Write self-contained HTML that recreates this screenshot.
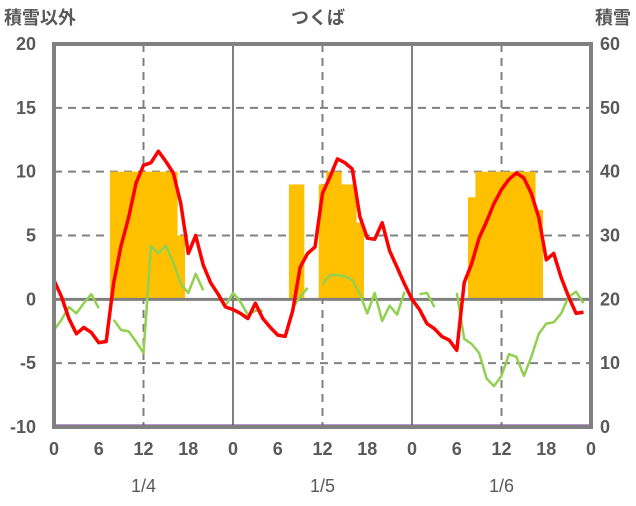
<!DOCTYPE html>
<html><head><meta charset="utf-8"><style>
body{margin:0;background:#fff;}
svg text{font-family:"Liberation Sans","Noto Sans CJK JP",sans-serif;fill:#595959;font-weight:bold;}
</style></head><body>
<svg id="chart" width="636" height="501" xmlns="http://www.w3.org/2000/svg">
<g id="grid"></g><g id="bars"></g><g id="lines"></g><g id="labels"></g>
</svg>
<script>
const redValues=[1.5,0.2,-1.5,-2.7,-2.2,-2.6,-3.4,-3.3,1.3,4.2,6.4,9.1,10.5,10.7,11.6,10.8,9.9,7.5,3.6,5.0,2.7,1.3,0.4,-0.6,
-0.8,-1.1,-1.5,-0.3,-1.5,-2.2,-2.8,-2.9,-0.9,2.5,3.6,4.1,8.3,9.6,11.0,10.7,10.2,6.5,4.8,4.7,6.0,3.8,2.5,1.2,
0,-0.8,-1.9,-2.3,-2.9,-3.2,-4.0,1.3,2.8,4.8,6.1,7.5,8.6,9.4,9.9,9.5,8.3,6.4,3.1,3.6,1.7,0.2,-1.1,-1.0];
const greenValues=[-2.4,-1.6,-0.6,-1.1,-0.3,0.4,-0.7,null,-1.6,-2.4,-2.5,-3.3,-4.2,4.2,3.6,4.2,2.9,1.2,0.5,2.0,0.7,null,0.5,-0.5,
0.5,-0.2,-1.2,-0.9,-0.9,null,null,null,-0.7,0.2,0.9,null,1.2,1.9,1.9,1.8,1.5,0.4,-1.1,0.5,-1.7,-0.5,-1.2,0.6,
null,0.4,0.5,-0.6,null,null,0.5,-3.1,-3.5,-4.2,-6.2,-6.8,-6.0,-4.3,-4.5,-6.0,-4.5,-2.7,-1.9,-1.8,-1.1,0.2,0.6,-0.3];
const barHours=[8,9,10,11,12,13,14,15,16,17,32,33,36,37,38,39,40,41,56,57,58,59,60,61,62,63,64,65];
const barValues=[40,40,40,40,40,40,40,40,40,30,38,38,38,40,40,38,38,32,36,40,40,40,40,40,40,40,40,34];
const xTicks=[0,6,12,18,24,30,36,42,48,54,60,66,72];
const xTickLabels=["0","6","12","18","0","6","12","18","0","6","12","18","0"];
const dateLabels=["1/4","1/5","1/6"];
const leftTicks=[20,15,10,5,0,-5,-10];
const rightTicks=[60,50,40,30,20,10,0];

const NS="http://www.w3.org/2000/svg";
const X0=54,X1=591,Y0=44,Y1=427;
const BAR_BASE=20;
const xs=h=>X0+(X1-X0)*h/72;
const yl=v=>Y1-(Y1-Y0)*(v+10)/30;
const yr=v=>Y1-(Y1-Y0)*v/60;
function mk(tag,attrs,parent){const e=document.createElementNS(NS,tag);for(const k in attrs)e.setAttribute(k,attrs[k]);parent.appendChild(e);return e;}
const grid=document.getElementById('grid'),bars=document.getElementById('bars'),lines=document.getElementById('lines'),labels=document.getElementById('labels');

leftTicks.forEach(v=>{
  if(v===20||v===-10||v===0)return;
  const l=mk('line',{x1:X0,x2:X1,y1:yl(v),y2:yl(v),stroke:'#808080','stroke-width':2,'stroke-dasharray':'8,6'},grid);
  
  
});
[12,24,36,48,60].forEach(h=>{
  const l=mk('line',{x1:xs(h),x2:xs(h),y1:Y0,y2:Y1,stroke:'#808080','stroke-width':2,'stroke-dasharray':h%24?'8,6':''},grid);
  
  
});

barHours.forEach((h,i)=>{
  const w=(X1-X0)/72;
  const r=mk('rect',{x:xs(h)-w/2,y:yr(barValues[i]),width:w+0.5,height:yr(BAR_BASE)-yr(barValues[i]),fill:'#FFC000'},bars);
  
  
});

const zl=mk('line',{x1:X0,x2:X1,y1:yl(0),y2:yl(0),stroke:'#808080','stroke-width':3},bars);



function series(vals,color,w,name){
  let d='',pen=false;
  vals.forEach((v,i)=>{if(v===null){pen=false;return;}d+=(pen?'L':'M')+xs(i).toFixed(1)+','+yl(v).toFixed(1);pen=true;});
  const p=mk('path',{d:d,fill:'none',stroke:color,'stroke-width':w,'stroke-linejoin':'round'},lines);
  
  
}
series(greenValues,'#92D050',2.5,'green-series');
series(redValues,'#FF0000',3.5,'red-series');

const pl=mk('line',{x1:X0,x2:X1,y1:Y1-1,y2:Y1-1,stroke:'#7030A0','stroke-width':3},lines);


const fr=mk('rect',{x:X0,y:Y0,width:X1-X0,height:Y1-Y0,fill:'none',stroke:'#808080','stroke-width':4},lines);



function txt(s,x,y,anchor,name,size,weight){
  const t=mk('text',{x:x,y:y,'text-anchor':anchor,'font-size':size||18},labels);
  if(weight)t.setAttribute('style','font-weight:'+weight);
  t.textContent=s;
  
  
}
leftTicks.forEach(v=>txt(String(v),36,yl(v)+6,'end','left-tick-label'));
rightTicks.forEach(v=>txt(String(v),600,yr(v)+6,'start','right-tick-label'));
xTicks.forEach((h,i)=>txt(xTickLabels[i],xs(h),455,'middle','x-tick-label'));
dateLabels.forEach((s,i)=>txt(s,xs(12+24*i),492,'middle','date-label',18,'normal'));
txt('積雪以外',4,24,'start','left-axis-title',18);
txt('つくば',318,24,'middle','chart-title',18);
txt('積雪',631,24,'end','right-axis-title',18);
</script>
</body></html>
